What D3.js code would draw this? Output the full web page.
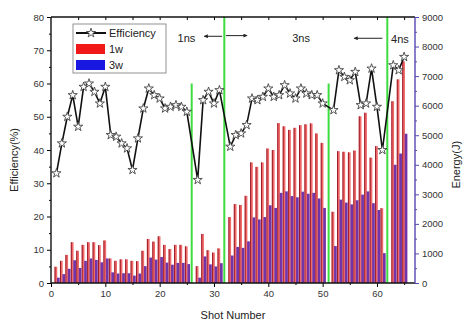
<!DOCTYPE html>
<html>
<head>
<meta charset="utf-8">
<script src="https://cdn.jsdelivr.net/npm/d3@7"></script>
<style>
  body { margin: 0; background: #fff; }
  text { font-family: "Liberation Sans", Arial, sans-serif; }
</style>
</head>
<body>
<div id="chart"></div>
<script>
// shots (26, 32, 51, 62 are the switch points, no data there)
var shots = [1,2,3,4,5,6,7,8,9,10,11,12,13,14,15,16,17,18,19,20,21,22,23,24,25,
             27,28,29,30,31,
             33,34,35,36,37,38,39,40,41,42,43,44,45,46,47,48,49,50,
             52,53,54,55,56,57,58,59,60,61,
             63,64,65];
// conversion efficiency (%)
var efficiency = [33,42,50,56.5,47,59,60,57.5,54,59,44.5,44,42,40.5,34,43.5,52.5,58.5,56.5,55.5,52.5,53,53.5,53,51.5,
                  31,55,57.5,54,58,
                  41,44.5,45,47.5,55.5,55,56,58.5,56,56.5,59.5,57,55.5,58.5,57,56.5,56.5,54,
                  52,64,62,61,63.5,53.5,54,64.5,53,40,
                  65.5,64,68];
// 1w energy (J)
var energy1w = [550,750,950,1380,1090,1290,1380,1380,1280,1440,830,750,800,800,750,740,1090,1490,1400,1580,1290,1150,1290,1290,1240,
                570,1660,1110,1030,1170,
                2230,2670,2640,2950,4080,3930,4080,4550,4500,5410,5300,5180,5250,5340,5370,5400,5060,4740,
                2410,4460,4440,4420,4480,5640,5760,4240,4630,2530,
                6150,6890,7500];
// 3w energy (J)
var energy3w = [180,300,480,770,510,750,830,780,700,830,360,320,330,330,250,320,570,860,790,880,690,620,680,680,640,
                180,900,630,560,670,
                930,1220,1190,1410,2220,2150,2230,2630,2540,3050,3100,2940,2900,3090,3020,3050,2860,2540,
                1250,2820,2720,2660,2800,2990,3100,2700,2470,1010,
                4000,4380,5050];
// green switch lines: shot position and top (%)
var switchShots = [25.9, 31.9, 51.1, 61.9];
var switchTops = [60, 80, 60, 80];

var margin = {top: 17, right: 49, bottom: 41, left: 51},
    width = 464 - margin.left - margin.right,
    height = 324 - margin.top - margin.bottom;

var svg = d3.select("#chart")
  .append("svg")
    .attr("width", 464)
    .attr("height", 324)
  .append("g")
    .attr("transform", "translate(" + margin.left + "," + margin.top + ")");

var x = d3.scaleLinear().domain([0, 67]).range([0, width]);
var y = d3.scaleLinear().domain([0, 80]).range([height, 0]);
var yE = d3.scaleLinear().domain([0, 9000]).range([height, 0]);

var rows = shots.map(function(s, i) {
  return {shot: s, eff: efficiency[i], e1: energy1w[i], e3: energy3w[i]};
});

// bars: 1w then 3w next to it
var bw = x(0.5) - x(0);
svg.append("g").selectAll("rect")
  .data(rows).enter().append("rect")
    .attr("x", function(d) { return x(d.shot - 0.35); })
    .attr("y", function(d) { return yE(d.e1); })
    .attr("width", bw)
    .attr("height", function(d) { return height - yE(d.e1); })
    .style("fill", "#f06a6a");
svg.append("g").selectAll("rect")
  .data(rows).enter().append("rect")
    .attr("x", function(d) { return x(d.shot - 0.35); })
    .attr("y", function(d) { return yE(d.e1); })
    .attr("width", 1)
    .attr("height", function(d) { return height - yE(d.e1); })
    .style("fill", "#9a1c2a");
svg.append("g").selectAll("rect")
  .data(rows).enter().append("rect")
    .attr("x", function(d) { return x(d.shot + 0.1); })
    .attr("y", function(d) { return yE(d.e3); })
    .attr("width", bw)
    .attr("height", function(d) { return height - yE(d.e3); })
    .style("fill", "#7234a6");

// green switch lines
svg.append("g").selectAll("line")
  .data(switchShots).enter().append("line")
    .attr("x1", function(d) { return x(d); })
    .attr("x2", function(d) { return x(d); })
    .attr("y1", height)
    .attr("y2", function(d, i) { return y(switchTops[i]); })
    .style("stroke", "#3fdc3f")
    .style("stroke-width", 2);

// efficiency line with stars
var line = d3.line()
  .x(function(d) { return x(d.shot); })
  .y(function(d) { return y(d.eff); });
svg.append("path")
  .datum(rows)
  .attr("d", line)
  .style("fill", "none")
  .style("stroke", "#111")
  .style("stroke-width", 1.6);

var star = d3.symbol().type(d3.symbolStar).size(26);
svg.append("g").selectAll("path")
  .data(rows).enter().append("path")
    .attr("d", star)
    .attr("transform", function(d) { return "translate(" + x(d.shot) + "," + y(d.eff) + ")"; })
    .style("fill", "#fff")
    .style("stroke", "#444")
    .style("stroke-width", 0.9);

// axes
var axisText = function(g) {
  g.selectAll("text").style("font-size", "9.5px").style("fill", "#333")
    .style("font-family", "'Liberation Sans', Arial, sans-serif");
  g.select(".domain").remove();
};

var xAxis = svg.append("g")
  .attr("transform", "translate(0," + height + ")")
  .call(d3.axisBottom(x).tickValues([0,10,20,30,40,50,60]).tickSize(4).tickPadding(3));
axisText(xAxis);
svg.append("g")
  .attr("transform", "translate(0," + height + ")")
  .call(d3.axisBottom(x).tickValues([5,15,25,35,45,55,65]).tickSize(2).tickFormat(""))
  .select(".domain").remove();

// top ticks pointing down
svg.append("g")
  .call(d3.axisBottom(x).tickValues(d3.range(5, 67, 5)).tickSize(3).tickFormat(""))
  .select(".domain").remove();

var yAxis = svg.append("g")
  .call(d3.axisLeft(y).tickValues(d3.range(0, 81, 10)).tickSize(4).tickPadding(3));
axisText(yAxis);
svg.append("g")
  .call(d3.axisLeft(y).tickValues(d3.range(5, 80, 10)).tickSize(2).tickFormat(""))
  .select(".domain").remove();

var yAxisR = svg.append("g")
  .attr("transform", "translate(" + width + ",0)")
  .call(d3.axisRight(yE).tickValues(d3.range(0, 9001, 1000)).tickSize(4).tickPadding(3)
    .tickFormat(d3.format("d")));
axisText(yAxisR);
yAxisR.selectAll("line").style("stroke", "#5548b0");
var minorR = svg.append("g")
  .attr("transform", "translate(" + width + ",0)")
  .call(d3.axisRight(yE).tickValues(d3.range(500, 9000, 1000)).tickSize(2).tickFormat(""));
minorR.select(".domain").remove();
minorR.selectAll("line").style("stroke", "#5548b0");

// frame
svg.append("line").attr("x1", 0).attr("x2", width).attr("y1", 0).attr("y2", 0)
  .style("stroke", "#111").style("stroke-width", 1.4);
svg.append("line").attr("x1", 0).attr("x2", width).attr("y1", height).attr("y2", height)
  .style("stroke", "#111").style("stroke-width", 1.4);
svg.append("line").attr("x1", 0).attr("x2", 0).attr("y1", 0).attr("y2", height)
  .style("stroke", "#111").style("stroke-width", 1.4);
svg.append("line").attr("x1", width).attr("x2", width).attr("y1", 0).attr("y2", height)
  .style("stroke", "#5548b0").style("stroke-width", 1.4);

// axis titles
svg.append("text")
  .attr("x", x(33.5)).attr("y", height + 36)
  .attr("text-anchor", "middle")
  .style("font-size", "11px").style("fill", "#222")
  .text("Shot Number");
svg.append("text")
  .attr("transform", "translate(" + (-33) + "," + y(37) + ") rotate(-90)")
  .attr("text-anchor", "middle")
  .style("font-size", "11px").style("fill", "#222")
  .text("Efficiency(%)");
svg.append("text")
  .attr("transform", "translate(" + (width + 45) + "," + yE(4000) + ") rotate(-90)")
  .attr("text-anchor", "middle")
  .style("font-size", "11px").style("fill", "#222")
  .text("Energy(J)");

// pulse length annotations
svg.append("defs").append("marker")
  .attr("id", "arr").attr("viewBox", "0 0 10 10")
  .attr("refX", 9).attr("refY", 5)
  .attr("markerWidth", 5).attr("markerHeight", 4)
  .attr("orient", "auto")
  .append("path").attr("d", "M0,0L10,5L0,10z").style("fill", "#222");

function note(label, sx, ey) {
  svg.append("text").attr("x", x(sx)).attr("y", y(ey))
    .style("font-size", "11px").style("fill", "#222").text(label);
}
function arrow(from, to, ey) {
  svg.append("line")
    .attr("x1", x(from)).attr("x2", x(to))
    .attr("y1", y(ey)).attr("y2", y(ey))
    .style("stroke", "#222").style("stroke-width", 1)
    .attr("marker-end", "url(#arr)");
}
note("1ns", 23.3, 72.5);
arrow(31.5, 28.2, 74.2);
arrow(32.2, 36.1, 74.4);
note("3ns", 44.4, 72.5);
arrow(61, 55.8, 73.6);
note("4ns", 62.6, 72.3);

// legend
var lg = svg.append("g").attr("transform", "translate(" + (73 - margin.left) + "," + (24 - margin.top) + ")");
lg.append("rect").attr("width", 93).attr("height", 49)
  .style("fill", "#fff").style("stroke", "#777").style("stroke-width", 0.8);
lg.append("line").attr("x1", 3).attr("x2", 33).attr("y1", 9).attr("y2", 9)
  .style("stroke", "#111").style("stroke-width", 2);
lg.append("path").attr("d", star).attr("transform", "translate(18,9)")
  .style("fill", "#fff").style("stroke", "#444").style("stroke-width", 0.9);
lg.append("text").attr("x", 36).attr("y", 13).style("font-size", "11px").style("fill", "#222").text("Efficiency");
lg.append("rect").attr("x", 3).attr("y", 20).attr("width", 29).attr("height", 10).style("fill", "#f01818");
lg.append("text").attr("x", 36).attr("y", 29).style("font-size", "11px").style("fill", "#222").text("1w");
lg.append("rect").attr("x", 3).attr("y", 36).attr("width", 29).attr("height", 10).style("fill", "#1818e0");
lg.append("text").attr("x", 36).attr("y", 45).style("font-size", "11px").style("fill", "#222").text("3w");
</script>
</body>
</html>
